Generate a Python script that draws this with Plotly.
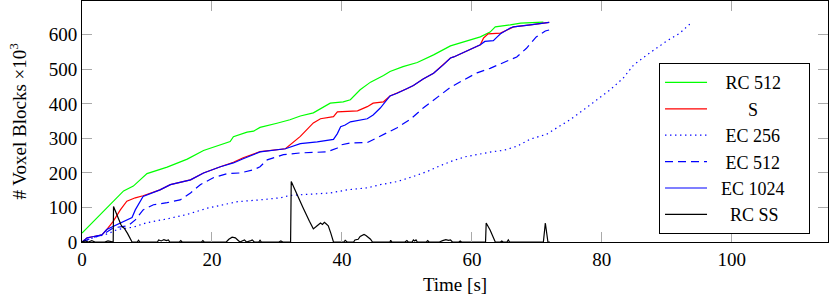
import plotly.graph_objects as go

# ---- data ----
rc512_t = [0, 1.8, 3.3, 4.9, 6.4, 7.9, 10, 13.1, 16.2, 18.7, 21.3, 22.8, 23.3, 25.4, 26.4, 27.4, 30, 32, 33.6, 35.6,
           38.2, 40.2, 41.3, 42.8, 44.4, 46.4, 47.4, 49.4, 51.6, 54.1, 56.7, 58.7, 61.3, 62.8, 63.6, 65.9, 67.5, 71]
rc512_v = [26, 60, 88, 120, 148, 162, 198, 217, 240, 265, 281, 291, 305, 318, 321, 332, 344, 354, 365, 374,
           402, 406, 412, 441, 463, 482, 494, 508, 520, 542, 568, 580, 594, 608, 623, 629, 634, 637]

s_t = [0, 0.8, 1.8, 3.1, 3.8, 4.8, 5.9, 6.9, 8.2, 9.4, 12, 13.6, 16.7, 18.7, 21.3, 23.3, 24.8, 26.4, 27.4, 31.3,
       33.6, 35.6, 36.7, 38.7, 39.3, 42.4, 43.9, 44.8, 46.4, 47.4, 48.5, 50, 51, 52.5, 54.1, 55.6, 56.7, 57.2,
       58.7, 59.8, 61.3, 61.8, 62.5, 64.4, 65.9, 66.4, 69, 71.9]
s_v = [0, 12, 16, 21, 36, 60, 93, 118, 128, 134, 151, 166, 180, 200, 218, 231, 244, 256, 262, 270,
       306, 345, 357, 363, 377, 380, 392, 402, 406, 423, 431, 444, 453, 472, 489, 513, 533, 536,
       548, 557, 571, 591, 603, 605, 620, 623, 629, 636]

ec256_t = [0, 2, 4, 5.4, 7.9, 10, 13.1, 16.2, 19.3, 22.3, 24, 27.4, 30.5, 32, 33.6, 38.2, 40.8, 43.9, 45.9, 48.5,
           51, 53.1, 55, 57, 59, 61, 63, 65, 67, 69, 71.5, 73.1, 75.1, 77.2, 79.3, 81.3, 83.3, 84.9, 87.4,
           89.9, 92, 93.7]
ec256_v = [0, 14, 24, 36, 43, 56, 67, 80, 98, 110, 117, 122, 128, 135, 137, 142, 151, 157, 166, 175,
           190, 204, 220, 235, 247, 255, 261, 266, 278, 298, 312, 331, 354, 383, 412, 441, 475, 513, 548,
           581, 605, 634]

ec512_t = [0, 1.8, 3.1, 4.8, 7.1, 8.2, 9.4, 11, 13.1, 15.1, 16.7, 18.2, 20.2, 22.3, 24.3, 26.4, 27.4, 28.5, 31,
           33.6, 37.7, 39.3, 39.8, 41.3, 43.9, 45.4, 46.9, 48.5, 50.5, 52.5, 54.6, 56.7, 58.7, 60.8, 62.8,
           64.8, 66.9, 68.4, 69.9, 71.3, 72.5]
ec512_v = [0, 14, 20, 41, 47, 64, 93, 108, 114, 122, 142, 166, 186, 198, 200, 209, 218, 238, 253,
           258, 261, 272, 281, 287, 288, 301, 316, 331, 355, 388, 417, 448, 469, 490, 503,
           518, 536, 561, 594, 611, 617]

ec1024_t = [0, 0.8, 1.8, 3.1, 3.8, 4.8, 5.9, 6.9, 7.7, 8.2, 9.0, 9.4, 12, 13.6, 16.7, 18.7, 21.3, 23.3, 24.8,
            26.4, 27.4, 31.3, 33.6, 36.2, 38.7, 39.3, 39.8, 40.5, 41.3, 43.9, 44.8, 45.9, 47.4, 48.5, 50, 51,
            52.5, 54.1, 55.6, 56.7, 57.2, 58.7, 59.8, 61.3, 62, 63.3, 63.9, 64.4, 65.9, 66.4, 69, 71.9]
ec1024_v = [0, 12, 16, 21, 36, 45, 56, 64, 71, 93, 118, 132, 151, 166, 180, 200, 218, 229, 241,
            253, 261, 270, 285, 290, 297, 314, 334, 339, 348, 357, 368, 388, 423, 431, 444, 453,
            472, 489, 513, 533, 536, 548, 557, 571, 581, 583, 594, 603, 620, 623, 629, 636]

rcss_t = [0, 0.5, 1, 1.5, 2, 3.5, 4.0, 4.5, 4.8, 4.85, 5.5, 6.0, 6.2, 6.5, 7.0, 7.7, 8.5, 8.7, 8.9,
          11.6, 11.8, 12.2, 12.6, 13.0, 13.3, 13.5, 15.0, 15.2, 15.4, 18.4, 18.6, 18.8,
          22.2, 22.6, 23.1, 23.6, 24.0, 24.3, 25.0, 25.3, 26.0, 26.2, 26.5, 27.2, 27.4, 27.6,
          30.3, 30.6, 30.9, 32.1, 32.2, 33, 34, 35, 35.6, 36.0, 36.3, 36.7, 37.0, 37.3, 37.6, 37.9, 38.3, 38.7,
          40.3, 40.5, 40.8, 41.8, 42.0, 42.5, 42.8, 43.1, 43.4, 43.7, 44.0, 44.4, 44.7,
          47.4, 47.5, 47.7, 49.7, 50.0, 50.2, 50.8, 51.0, 51.2, 51.4, 51.6, 53.0, 53.2, 53.4,
          55.0, 55.5, 56.0, 56.4, 56.7, 57.0, 58.0, 58.2, 58.4, 62.1, 62.2, 62.8, 63.3, 63.6,
          64.4, 64.6, 64.8, 65.4, 65.6, 65.8, 71.0, 71.3, 71.7, 72]
rcss_v = [0, 3, 0, 4, 0, 0, 3, 0, 0, 103, 70, 50, 44, 40, 25, 0, 0, 5, 0,
          0, 6, 3, 7, 4, 6, 0, 0, 4, 0, 0, 4, 0,
          0, 8, 14, 12, 5, 0, 6, 0, 4, 6, 0, 0, 5, 0,
          0, 3, 0, 0, 175, 140, 100, 60, 38, 44, 50, 55, 51, 57, 52, 47, 25, 0,
          0, 5, 0, 0, 6, 8, 16, 20, 22, 19, 15, 8, 0,
          0, 5, 0, 0, 4, 0, 0, 6, 3, 6, 0, 0, 4, 0,
          0, 4, 7, 5, 6, 0, 0, 3, 0, 0, 55, 35, 12, 0,
          0, 3, 0, 0, 6, 0, 0, 55, 0, 0]

x_ticks = [0, 20, 40, 60, 80, 100]
y_ticks = [0, 100, 200, 300, 400, 500, 600]

FONT = "Liberation Serif"
FS = 19
LFS = 18
NB = "\u00a0"

fig = go.Figure()
series = [
    (rc512_t, rc512_v, "RC 512", "#00ff00", "solid", 3, 5),
    (s_t, s_v, "S", "#ff0000", "solid", 8, 10),
    (ec256_t, ec256_v, "EC 256", "#0000ff", "1.4px,3.6px", 3, 5),
    (ec512_t, ec512_v, "EC 512", "#0000ff", "8px,5px", 3, 5),
    (ec1024_t, ec1024_v, "EC 1024", "#0000ff", "solid", 2, 4),
    (rcss_t, rcss_v, "RC SS", "#000000", "solid", 4, 5),
]
for t, v, name, col, dash, pad, tail in series:
    fig.add_trace(go.Scatter(x=t, y=v, mode="lines", name=NB * pad + name + NB * tail,
                             line=dict(color=col, width=1.2, dash=dash)))

fig.update_layout(
    width=830, height=305,
    margin=dict(l=82, r=2, t=1, b=63),
    paper_bgcolor="white", plot_bgcolor="white",
    font=dict(family=FONT, size=FS, color="black"),
    showlegend=True,
    legend=dict(x=0.7735, y=0.742, xanchor="left", yanchor="top",
                bordercolor="black", borderwidth=1, bgcolor="white",
                font=dict(family=FONT, size=LFS), itemwidth=42,
                tracegroupgap=0),
    annotations=[dict(text="# Voxel Blocks ×10<sup>3</sup>", textangle=-90,
                      xref="paper", yref="paper", x=-0.087, y=0.5,
                      xanchor="center", yanchor="middle", showarrow=False,
                      font=dict(family=FONT, size=FS))],
)
fig.update_xaxes(range=[0, 114.8], tickvals=x_ticks, ticks="inside", ticklen=10,
                 tickcolor="#aaaaaa", tickwidth=1, showline=True, linecolor="black",
                 linewidth=1, mirror="ticks", showgrid=False, zeroline=False,
                 title=dict(text="Time [s]", standoff=8, font=dict(family=FONT, size=FS)))
fig.update_yaxes(range=[0, 698], tickvals=y_ticks, ticks="inside", ticklen=10,
                 tickcolor="#aaaaaa", tickwidth=1, showline=True, linecolor="black",
                 linewidth=1, mirror="ticks", showgrid=False, zeroline=False)

fig.write_html("out.html", config={"displayModeBar": False},
               post_script="document.body.style.margin='0';document.body.style.overflow='hidden';")
